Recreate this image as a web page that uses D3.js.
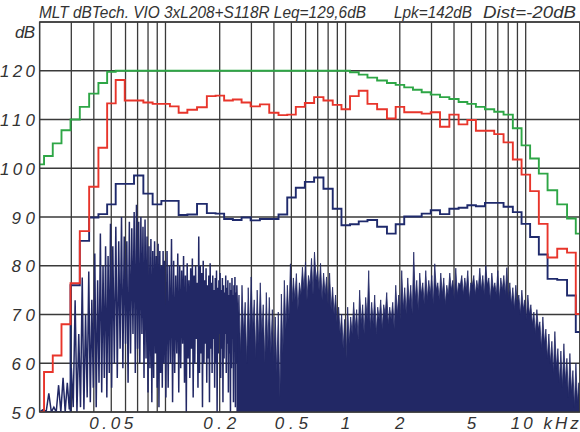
<!DOCTYPE html>
<html><head><meta charset="utf-8">
<script src="https://cdn.jsdelivr.net/npm/d3@7"></script>
<style>body{margin:0;background:#fff}svg{display:block}</style>
</head><body><svg id="c" width="580" height="432"></svg>
<script>
// ---------- DATA ----------
const titleParts = ["MLT dBTech. VIO 3xL208+S118R Leq=129,6dB", "Lpk=142dB", "Dist=-20dB"];
const yTicks = [50, 60, 70, 80, 90, 100, 110, 120];
const yUnit = "dB";
const xTickFreqs = [50, 200, 500, 1000, 2000, 5000, 10000];
const xTickLabels = ["0.05", "0.2", "0.5", "1", "2", "5", "10 kHz"];

// 1/6-octave band centres (Hz)
const bandFreqs = [20, 22.4, 25, 28, 31.5, 35.5, 40, 45, 50, 56, 63, 71, 80, 90, 100, 112, 125, 140, 160, 180,
  200, 224, 250, 280, 315, 355, 400, 450, 500, 560, 630, 710, 800, 900, 1000, 1120, 1250, 1400, 1600, 1800,
  2000, 2240, 2500, 2800, 3150, 3550, 4000, 4500, 5000, 5600, 6300, 7100, 8000, 9000, 10000, 11200, 12500, 14000, 16000, 18000, 20000];
const greenLevels = [100.8, 102.5, 105.1, 107.8, 110.0, 112.6, 115.3, 117.5, 119.8,
  120, 120, 120, 120, 120, 120, 120, 120, 120, 120, 120, 120, 120, 120, 120, 120, 120, 120, 120, 120, 120, 120, 120, 120, 120, 120,
  119.7, 119.2, 118.6, 118.0, 117.5, 117.1, 116.6, 116.1, 115.6, 115.1, 114.6, 114.2, 113.6, 113.2, 112.6, 112.1, 111.6, 111.0,
  108.2, 104.7, 102.0, 98.9, 95.5, 92.6, 89.7, 86.6];
const redLevels = [50, 58.2, 61.6, 68.0, 76.4, 87.1, 96.2, 104.2, 113.3, 118.1,
  113.9, 113.9, 113.5, 113.2, 113.2, 112.7, 111.4, 112.0, 112.5, 114.8,
  114.9, 113.9, 114.1, 113.5, 112.7, 113.1, 111.4, 110.9, 111.0, 112.6,
  113.4, 114.6, 113.9, 113.0, 112.1, 114.8, 115.9, 113.2, 112.1, 110.2,
  112.6, 111.5, 111.5, 111.2, 111.5, 108.5, 111.0, 109.0, 109.9, 107.7,
  107.7, 107.0, 105.3, 101.8, 98.7, 95.3, 88.6, 81.7, 83.5, 82.7, 70.1];
const navyLevels = [50, 50, 50, 50, 76.0, 85.1, 89.9, 90.6, 92.6, 96.8,
  96.8, 98.5, 94.8, 92.6, 93.3, 93.3, 90.4, 90.5, 92.7, 90.8,
  90.7, 89.6, 89.4, 89.9, 89.3, 89.6, 89.6, 90.5, 94.0, 96.0,
  97.2, 98.1, 95.8, 91.7, 88.3, 88.5, 89.1, 89.4, 88.0, 86.6,
  88.5, 90.1, 90.1, 90.7, 91.4, 90.6, 91.7, 91.9, 92.4, 92.2,
  92.9, 92.9, 92.1, 91.0, 88.6, 85.9, 82.3, 77.3, 77.1, 73.9, 66.4];

// FFT spectrum, low-frequency part (spike peak and following trough)
const lfFreqs = [21, 22.5, 24, 25.5, 27, 28.5, 30, 31.5, 33, 34.5, 36, 37.5, 39, 40.5, 42, 43.5, 45, 46.5, 48, 49.5,
  51, 53, 55, 57, 59, 61, 63, 65, 67, 69, 71, 73, 75, 77, 79, 81, 83, 85, 87, 89, 91, 93, 95, 97, 99,
  102, 105, 108, 111, 114, 117, 120, 123, 126, 129, 132, 135, 138, 141, 144, 147, 150, 153, 156, 159,
  162, 165, 168, 171, 174, 177, 180, 183, 186, 189, 192, 195, 198, 201, 204, 207, 210, 213, 216, 219,
  222, 225, 228, 231, 234, 237, 240, 243, 246, 249];
const lfPeaks = [50.5, 53.8, 51, 55.5, 57, 56, 59,
  72.9, 66, 77.6, 70, 78.8, 73, 82.5, 77, 86.6, 80, 84, 82, 88.6,
  84, 88, 85, 90, 86, 85, 89, 87.7, 91, 92.5, 89, 90, 88, 89.5, 86, 84, 85.5, 83, 85, 82, 84.5, 83, 80, 83, 81,
  83, 80, 85.5, 81, 78, 82.5, 80, 79, 82, 78, 80.5, 77, 79.5, 81.5, 78, 80, 76.5, 86, 80, 78.5,
  81, 77, 79.5, 76, 78, 80.5, 76.5, 78, 75, 77.5, 79, 75.5, 77, 78.5, 75, 77.5, 76, 74.5, 78, 75.5,
  77, 74, 76.5, 75, 77.5, 74, 76, 77.7, 74.5, 76];
const lfTroughs = [50, 50, 50, 50, 50, 50.5, 51,
  50, 51, 50.5, 53, 52, 55, 51, 56, 54, 57, 53, 58, 55,
  60, 57, 63, 59, 64, 56, 62, 66, 58, 63, 60, 66, 57, 61, 54, 59, 52, 57, 62, 55, 51, 58, 55, 60, 53,
  55, 60, 52, 58, 62, 54, 59, 64, 56, 50, 61, 57, 63, 53, 60, 65, 55, 58, 62, 51,
  60, 64, 56, 61, 52, 63, 58, 65, 55, 60, 50, 62, 66, 57, 63, 52, 61, 66, 58, 64,
  54, 62, 50, 59, 65, 52, 63, 51, 60, 66];

// FFT spectrum, dense high-frequency part (spike peak and following trough)
const hfFreqs = [256, 266, 277, 288, 299, 311, 323, 336, 349, 363, 377, 392, 407, 423, 440, 457, 475, 494, 513, 533,
  554, 576, 599, 622, 647, 672, 699, 726, 755, 784, 815, 847, 880, 915, 951, 988, 1027, 1067, 1109, 1152,
  1197, 1244, 1293, 1344, 1396, 1451, 1508, 1567, 1628, 1692, 1758, 1827, 1899, 1973, 2050, 2130, 2214, 2300, 2390, 2484,
  2581, 2682, 2787, 2896, 3010, 3127, 3250, 3377, 3509, 3646, 3789, 3937, 4091, 4251, 4418, 4590, 4770, 4957, 5151, 5352,
  5562, 5779, 6005, 6240, 6485, 6738, 7002, 7276, 7561, 7857, 8164, 8484, 8816, 9161, 9520, 9892, 10280, 10682, 11100, 11535,
  11986, 12455, 12943, 13450, 13976, 14523, 15092, 15683, 16296, 16934, 17597, 18286, 19002, 19746];
const hfPeaks = [74, 76, 72.5, 75.5, 77.7, 73, 75, 76.5, 72, 74.5, 73.5, 71,
  69.5, 70.5,
  74.2, 77, 76, 80.4, 77.5, 78.4, 76.5, 79.7, 80.8, 78, 81.5, 82.8, 79, 80.5, 78.5, 77.7, 78.5, 75.6, 74, 71.5, 70.1, 69,
  71.5, 69.5, 72.5, 71, 75, 72, 73.5, 79, 72.5, 74, 71.5, 73, 72, 74.5, 71.5, 72.5, 76, 74, 79, 75.5, 77.5, 76,
  82.8, 77, 78.5, 76.5, 79, 77, 78, 80.4, 76.5, 78.5, 77.5, 76, 78.5, 77, 79.5, 76.5, 78, 77.5, 79, 76.5, 78, 77,
  79.5, 78, 80, 77.5, 78.5, 76.5, 79, 77.5, 78, 79.6, 76.5, 75.5, 76, 74, 75, 73, 74, 72, 70.5, 71,
  68.5, 69.5, 67, 66, 64.5, 66.5, 63, 62.5, 64, 61, 62, 58.5, 60, 56];
const hfTroughs = [62, 66, 60, 65, 67, 61, 64, 66, 60, 63, 62, 60,
  58, 53,
  62, 67, 69, 72, 73, 71, 74, 75, 73, 76, 74, 77, 75, 73, 74, 72, 71, 70, 68, 66, 63, 61,
  64, 66, 67, 65, 68, 66, 69, 67, 68, 66, 69, 67, 70, 68, 69, 67, 70, 69, 71, 70, 72, 70,
  73, 71, 74, 72, 73, 74, 72, 75, 73, 74, 72, 74, 75, 73, 74, 76, 74, 75, 73, 76, 74, 75,
  75, 74, 76, 73, 75, 74, 73, 75, 74, 73, 72, 71, 72, 70, 71, 69, 70, 68, 66, 67,
  63, 64, 61, 60, 58, 59, 56, 55, 56, 53, 54, 51, 52, 50];

// ---------- CHART ----------
const W = 580, H = 432;
const plot = {left: 39.6, right: 579.9, top: 22, bottom: 412};
const svg = d3.select("#c");
const x = d3.scaleLog().domain([20, 20000]).range([plot.left, plot.right]);
const y = d3.scaleLinear().domain([50, 130]).range([plot.bottom, plot.top]);

const gridCol = "#3a3a3a", textCol = "#333";
const navySpec = "#222865", navyStep = "#1f2a6c", red = "#e8352b", green = "#2ea646";

svg.append("rect").attr("width", W).attr("height", H).attr("fill", "#fff");
svg.append("clipPath").attr("id", "clip").append("rect")
  .attr("x", plot.left).attr("y", plot.top - 2)
  .attr("width", plot.right - plot.left).attr("height", plot.bottom - plot.top + 2);

// grid
const grid = svg.append("g");
grid.selectAll("line.h").data(d3.range(50, 131, 10)).join("line")
  .attr("x1", plot.left).attr("x2", plot.right).attr("y1", d => y(d)).attr("y2", d => y(d))
  .attr("stroke", gridCol).attr("stroke-width", 1.3);
grid.selectAll("line.v").data(x.ticks()).join("line")
  .attr("x1", d => x(d)).attr("x2", d => x(d)).attr("y1", plot.top).attr("y2", plot.bottom)
  .attr("stroke", gridCol).attr("stroke-width", 1.3);

const g = svg.append("g").attr("clip-path", "url(#clip)");

// zigzag point lists (peak at f, trough between f and next f)
function zig(freqs, peaks, troughs, nextFirst) {
  const pts = [];
  freqs.forEach((f, i) => {
    pts.push([f, peaks[i]]);
    const nf = i < freqs.length - 1 ? freqs[i + 1] : nextFirst;
    pts.push([Math.sqrt(f * nf), troughs[i]]);
  });
  return pts;
}
const nLf = lfFreqs.length;
const lfPts = [[20, 50]].concat(zig(lfFreqs, lfPeaks, lfTroughs, hfFreqs[0]));
const hfPts = [[lfFreqs[nLf - 1], lfTroughs[nLf - 1]]].concat(zig(hfFreqs, hfPeaks, hfTroughs, 20000));

// dense part: filled
g.append("path").datum(hfPts)
  .attr("d", d3.area().x(d => x(d[0])).y0(y(50)).y1(d => y(d[1])))
  .attr("fill", navySpec).attr("stroke", navySpec).attr("stroke-width", 0.8);

// low-frequency part: line
g.append("path").datum(lfPts)
  .attr("d", d3.line().x(d => x(d[0])).y(d => y(d[1])))
  .attr("fill", "none").attr("stroke", navySpec).attr("stroke-width", 1.5)
  .attr("stroke-linejoin", "miter");

// 1/6-octave step curves
function stepPts(levels) {
  const pts = [];
  for (let k = 0; k < bandFreqs.length; k++) {
    const lo = k === 0 ? 20 : Math.sqrt(bandFreqs[k - 1] * bandFreqs[k]);
    pts.push([lo, levels[k]]);
  }
  const n = bandFreqs.length;
  pts.push([bandFreqs[n - 1] * Math.sqrt(bandFreqs[n - 1] / bandFreqs[n - 2]), levels[n - 1]]);
  return pts;
}
const stepLine = d3.line().x(d => x(d[0])).y(d => y(d[1])).curve(d3.curveStepAfter);
[[greenLevels, green], [navyLevels, navyStep], [redLevels, red]].forEach(([lv, col]) => {
  g.append("path").datum(stepPts(lv)).attr("d", stepLine)
    .attr("fill", "none").attr("stroke", col).attr("stroke-width", 1.9);
});

// border
svg.append("rect").attr("x", plot.left).attr("y", plot.top)
  .attr("width", plot.right - plot.left).attr("height", plot.bottom - plot.top)
  .attr("fill", "none").attr("stroke", gridCol).attr("stroke-width", 1.3);

// texts
const font = "'Liberation Sans', Arial, sans-serif";
const titleX = [[39, 327], [394, 78], [483, 93]];
titleParts.forEach((t, i) => {
  svg.append("text").attr("x", titleX[i][0]).attr("y", 18).text(t)
    .attr("font-family", "'Liberation Sans Narrow'," + font).attr("font-style", "italic")
    .attr("font-size", 16).attr("fill", textCol)
    .attr("textLength", titleX[i][1]).attr("lengthAdjust", "spacingAndGlyphs");
});
svg.selectAll("text.yl").data(yTicks).join("text")
  .attr("x", 35).attr("y", d => y(d) + 6.5).attr("text-anchor", "end")
  .attr("font-family", font).attr("font-style", "italic").attr("font-size", 17).attr("fill", textCol)
  .attr("textLength", d => String(d).length * 11.7).attr("lengthAdjust", "spacing")
  .text(d => d);
svg.append("text").attr("x", 35).attr("y", 38).attr("text-anchor", "end")
  .attr("font-family", font).attr("font-style", "italic").attr("font-size", 17).attr("fill", textCol)
  .attr("textLength", 20).attr("lengthAdjust", "spacing").text(yUnit);
xTickFreqs.forEach((f, i) => {
  const lab = xTickLabels[i];
  const isLast = i === xTickFreqs.length - 1;
  const t = svg.append("text")
    .attr("x", isLast ? x(f) - 15 : x(f)).attr("y", 429)
    .attr("text-anchor", isLast ? "start" : "middle")
    .attr("font-family", font).attr("font-style", "italic").attr("font-size", 17).attr("fill", textCol)
    .text(lab);
  if (lab.length > 1) t.attr("textLength", isLast ? 68 : lab.length * 11).attr("lengthAdjust", "spacing");
});
</script></body></html>
